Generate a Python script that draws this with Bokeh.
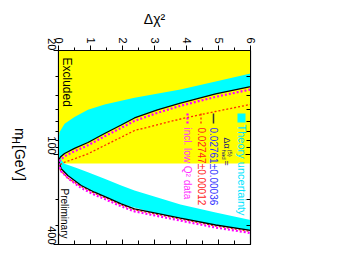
import math
from bokeh.plotting import figure
from bokeh.layouts import row
from bokeh.models import Range1d, FixedTicker, LinearAxis, LogAxis, Label
from bokeh.core.properties import value
from bokeh.embed import file_html
from bokeh.resources import INLINE

# ---------------- data ----------------
x_ticks = [0, 1, 2, 3, 4, 5, 6]
x_minor = [0.5, 1.5, 2.5, 3.5, 4.5, 5.5]
y_ticks = [20, 100, 400]
y_minor = [30, 40, 50, 60, 70, 80, 90, 200, 300]
y_labels = {20: "20", 100: "100", 400: "400"}

excluded_mh = [20, 114.4]

black_mh = [20, 25, 30, 34.9, 39.1, 45.0, 50.1, 56.7, 63.2, 72.1, 82.8, 90.6, 98.1, 103.6, 109.4,
            124.3, 137.9, 160.8, 178.4, 194.5, 213.4, 230.6, 265.8, 296, 322, 350, 400]
black_d = [11.25, 9.15, 7.42, 6.0, 4.91, 3.81, 3.09, 2.375, 1.96, 1.44, 0.92, 0.5, 0.19, 0.06, 0.0,
           0.084, 0.29, 0.71, 1.125, 1.54, 1.96, 2.375, 3.81, 4.91, 6.0, 7.05, 8.78]

band_mh = [20, 25, 28.5, 32.3, 36.5, 41.5, 46.0, 50.0, 55.9, 61.9, 70.6, 80.3, 91.3, 98.6, 103.6,
           109.4, 115.1, 121.3, 124.3, 131.0, 137.9, 145.1, 160.8, 173.8, 194.5, 215.8, 244,
           265.8, 274, 296, 322, 350, 400]
band_lo = [9.14, 7.18, 6.0, 4.91, 3.81, 2.375, 1.44, 0.92, 0.5, 0.19, 0.03, 0.0, 0.0, 0.0, 0.0,
           0.0, 0.03, 0.065, 0.084, 0.19, 0.29, 0.43, 0.71, 1.02, 1.54, 2.02, 2.95,
           3.81, 4.12, 4.91, 6.0, 7.05, 8.78]
band_hi = [11.25, 9.15, 7.91, 6.73, 5.57, 4.44, 3.66, 3.10, 2.46, 2.04, 1.52, 1.03, 0.47, 0.18, 0.06,
           0.1, 0.19, 0.5, 0.63, 0.92, 1.18, 1.44, 1.96, 2.375, 3.12, 3.81, 4.91,
           5.71, 6.0, 6.73, 7.53, 8.3, 9.58]

mag_mh = [20.9, 26.1, 31.4, 36.5, 40.9, 47.0, 52.4, 59.3, 66.0, 75.3, 86.5, 94.7, 102.5, 108.3,
          113.8, 129.3, 143.4, 167.2, 185.5, 202.3, 221.9, 239.8, 276.4, 307.8, 334.9, 364, 416]
mag_d = [11.25, 9.15, 7.42, 6.0, 4.91, 3.81, 3.09, 2.375, 1.96, 1.44, 0.92, 0.5, 0.19, 0.06, 0.0,
         0.084, 0.29, 0.71, 1.125, 1.54, 1.96, 2.375, 3.81, 4.91, 6.0, 7.05, 8.78]

red_mh = [30, 40, 46.0, 51.3, 57.6, 68.8, 76.3, 86.7, 98.6, 106.5, 112.3, 118.1, 124.3, 131.6,
          144.4, 163.4, 181.3, 197.6, 216.8, 234.3, 270.1, 300.7, 327.2, 355.6, 406.4]
red_d = [10.33, 7.42, 6.0, 4.91, 3.81, 2.375, 1.96, 1.44, 0.92, 0.5, 0.19, 0.0, 0.03, 0.125,
         0.31, 0.71, 1.125, 1.54, 1.96, 2.375, 3.81, 4.91, 6.0, 7.05, 8.78]

# ---------------- layout helpers (page pixel -> data, for text placement) ----------------
FL, FR, FT, FB = 58.0, 250.0, 50.0, 244.0
def dx(px):
    return (px - FL) / (FR - FL) * 6.0
def my(py):
    return 20.0 * 10 ** ((py - FT) / (FB - FT) * math.log10(400 / 20))

FONT = "Liberation Sans"
ROT = -math.pi / 2
LEFT_W = 30

# narrow strip on the left that carries the rotated y-axis title
pl = figure(width=LEFT_W, height=275, x_range=Range1d(0, LEFT_W), y_range=Range1d(275, 0),
            output_backend="svg", toolbar_location=None, title=None,
            x_axis_location=None, y_axis_location=None,
            min_border_left=0, min_border_right=0, min_border_top=0, min_border_bottom=0)
pl.grid.visible = False
pl.outline_line_color = None
pl.text(x=[19], y=[110], text=["m"], angle=ROT, text_align="left", text_baseline="middle",
        text_font=value(FONT), text_font_size="14px", text_color="black")
pl.text(x=[14.5], y=[122], text=["H"], angle=ROT, text_align="left", text_baseline="middle",
        text_font=value(FONT), text_font_size="10px", text_color="black")
pl.text(x=[19], y=[134], text=["[GeV]"], angle=ROT, text_align="left", text_baseline="middle",
        text_font=value(FONT), text_font_size="14px", text_color="black")

p = figure(width=355 - LEFT_W, height=275, x_range=Range1d(0, 6), y_range=Range1d(400, 20),
           y_axis_type="log", x_axis_location="above", output_backend="svg",
           toolbar_location=None, title=None,
           min_border_left=58 - LEFT_W, min_border_right=105, min_border_top=50, min_border_bottom=31)
p.grid.visible = False
p.background_fill_color = "white"
p.border_fill_color = "white"
p.outline_line_color = "black"
p.outline_line_width = 1.2

# main axes
xa = p.xaxis[0]
xa.ticker = FixedTicker(ticks=x_ticks, minor_ticks=x_minor)
xa.axis_label = "\u0394\u03c7\u00b2"
xa.axis_label_text_font = FONT
xa.axis_label_text_font_size = "14px"
xa.axis_label_text_font_style = "normal"
xa.axis_label_text_color = "black"
xa.axis_label_standoff = 7
ya = p.yaxis[0]
ya.ticker = FixedTicker(ticks=y_ticks, minor_ticks=y_minor)
ya.major_label_overrides = y_labels
for ax in (xa, ya):
    ax.major_tick_out = 5
    ax.major_tick_in = 0
    ax.minor_tick_out = 3
    ax.minor_tick_in = 0
    ax.major_label_orientation = ROT
    ax.major_label_text_font = FONT
    ax.major_label_text_font_size = "11px"
    ax.major_label_text_color = "black"
    ax.major_label_standoff = 2
    ax.axis_line_color = "black"
    ax.major_tick_line_color = "black"
    ax.minor_tick_line_color = "black"

# mirror axes (ticks inside, labels invisible)
xb = LinearAxis(ticker=FixedTicker(ticks=x_ticks, minor_ticks=x_minor))
yb = LogAxis(ticker=FixedTicker(ticks=y_ticks, minor_ticks=y_minor))
for ax in (xb, yb):
    ax.major_tick_out = 0
    ax.major_tick_in = 5
    ax.minor_tick_out = 0
    ax.minor_tick_in = 4
    ax.major_label_text_alpha = 0
    ax.major_label_text_font_size = "8px"
    ax.axis_line_color = "black"
p.add_layout(xb, "below")
p.add_layout(yb, "right")

# excluded region
p.harea(y=excluded_mh, x1=[0, 0], x2=[6, 6], fill_color="#ffff00")
# theory band
p.harea(y=band_mh, x1=band_lo, x2=band_hi, fill_color="#00ffff")
# curves
p.line(red_d, red_mh, line_color="#ff2a00", line_width=1.3, line_dash="2 2")
p.line(black_d, black_mh, line_color="black", line_width=1.3)
p.line(mag_d, mag_mh, line_color="#ff00ff", line_width=2.2, line_dash="2 2")

def lab(px, py, text, size, color="black", angle=ROT, align="left", baseline="middle"):
    p.add_layout(Label(x=dx(px), y=my(py), text=text, angle=angle, text_align=align,
                       text_baseline=baseline, text_font=FONT, text_font_size=size,
                       text_color=color))

# in-plot texts
lab(66, 57, "Excluded", "12px")
lab(64, 188, "Preliminary", "10px")

# legend
p.quad(left=[dx(237)], right=[dx(245)], top=[my(113)], bottom=[my(122)],
       fill_color="#00ffff", line_color=None)
lab(241, 124, "Theory uncertainty", "11px", color="#00e5ff")
lab(226, 137, "\u0394\u03b1", "9px", color="#1a1a70")
lab(229, 149, "(5)", "6px", color="#1a1a70")
lab(223, 149, "had", "6px", color="#1a1a70")
lab(226, 160, " =", "9px", color="#1a1a70")
p.segment(x0=[dx(213)], x1=[dx(213)], y0=[my(113)], y1=[my(123)], line_color="#333333", line_width=1.5)
lab(213, 127, "0.02761\u00b10.00036", "10px", color="#3030ff")
p.segment(x0=[dx(200.5)], x1=[dx(200.5)], y0=[my(113)], y1=[my(123)], line_color="#ff2a00",
          line_width=1.3, line_dash="2 2")
lab(200.5, 127, "0.02747\u00b10.00012", "10px", color="#ff2020")
p.segment(x0=[dx(187)], x1=[dx(187)], y0=[my(113)], y1=[my(123)], line_color="#ff00ff",
          line_width=2.2, line_dash="2 2")
lab(187, 127, "incl. low Q\u00b2 data", "10px", color="#ff30ff")

layout = row(pl, p, spacing=0)
open("out.html", "w").write(file_html(layout, INLINE))
